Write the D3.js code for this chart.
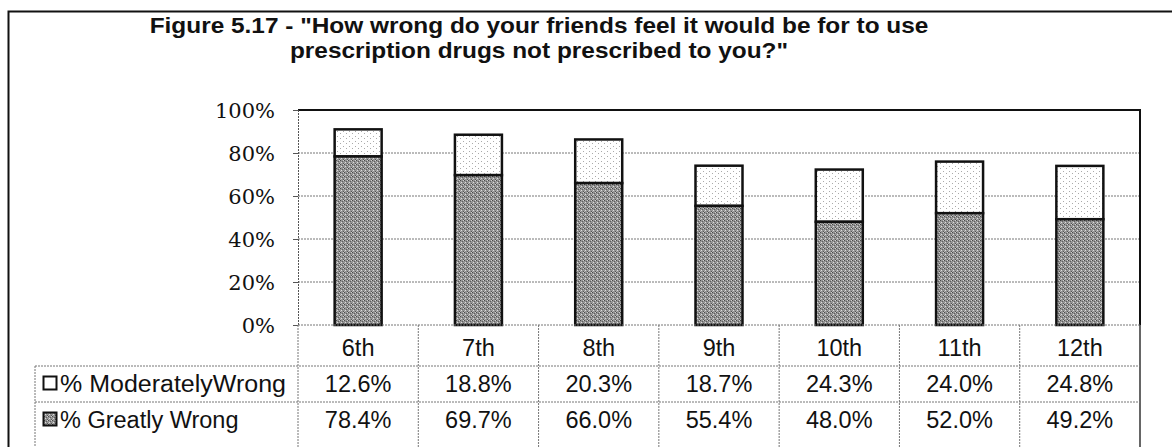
<!DOCTYPE html>
<html><head><meta charset="utf-8">
<script src="https://cdn.jsdelivr.net/npm/d3@7"></script>
<style>
html,body{margin:0;padding:0;background:#fff;}
svg{display:block;}
</style></head>
<body>
<script>
const categories = ["6th","7th","8th","9th","10th","11th","12th"];
const moderatelyWrong = [12.6, 18.8, 20.3, 18.7, 24.3, 24.0, 24.8];
const greatlyWrong = [78.4, 69.7, 66.0, 55.4, 48.0, 52.0, 49.2];
const seriesNames = ["% ModeratelyWrong", "% Greatly Wrong"];
const yTicks = [0, 20, 40, 60, 80, 100];
const titleLines = ["Figure 5.17 - \"How wrong do your friends feel it would be for to use",
                    "prescription drugs not prescribed to you?\""];

const W = 1172, H = 447;
const svg = d3.select("body").append("svg").attr("width", W).attr("height", H);
const defs = svg.append("defs");

const pg = defs.append("pattern").attr("id","dark").attr("patternUnits","userSpaceOnUse")
  .attr("width",4).attr("height",4);
pg.append("rect").attr("width",4).attr("height",4).attr("fill","#949494");
[[0,0,"#4a4a4a"],[2,1,"#5e5e5e"],[1,2,"#dcdcdc"],[3,3,"#555"],[3,0,"#cfcfcf"],[0,3,"#b5b5b5"]].forEach(p=>{
  pg.append("rect").attr("x",p[0]).attr("y",p[1]).attr("width",1).attr("height",1).attr("fill",p[2]);
});
const pl = defs.append("pattern").attr("id","light").attr("patternUnits","userSpaceOnUse")
  .attr("width",6).attr("height",5);
pl.append("rect").attr("width",6).attr("height",5).attr("fill","#fff");
[[1,1],[4,3]].forEach(p=>{
  pl.append("rect").attr("x",p[0]).attr("y",p[1]).attr("width",1).attr("height",1).attr("fill","#aaa");
});

svg.append("rect").attr("x",8.5).attr("y",11.5).attr("width",1300).attr("height",600)
  .attr("fill","none").attr("stroke","#111").attr("stroke-width",2);

const titleG = svg.append("g").attr("transform","translate(539,0) scale(1.12,1)");
const title = titleG.append("text").attr("font-family","Liberation Sans, Arial, sans-serif")
  .attr("font-weight","bold").attr("font-size",21.8).attr("text-anchor","middle").attr("fill","#111");
titleLines.forEach((t,i)=>{
  title.append("tspan").attr("x",0).attr("y",33 + i*25).text(t);
});

const x = d3.scaleBand().domain(categories).range([298,1140]).paddingInner(0).paddingOuter(0);
const y = d3.scaleLinear().domain([0,100]).range([325,110]);
const barW = 47;

svg.append("g").selectAll("line").data(yTicks.filter(d=>d>0 && d<100)).join("line")
  .attr("x1",298).attr("x2",1140).attr("y1",d=>y(d)).attr("y2",d=>y(d))
  .attr("stroke","#777").attr("stroke-width",1).attr("stroke-dasharray","2,1");

svg.append("path").attr("d",`M298,${y(100)}H1140V${y(0)}`).attr("fill","none")
  .attr("stroke","#111").attr("stroke-width",2);

const yAxis = svg.append("g").attr("transform","translate(298,0)")
  .call(d3.axisLeft(y).tickValues(yTicks).tickFormat(d=>d+"%").tickSize(5).tickPadding(18));
yAxis.select(".domain").attr("stroke","#555").attr("stroke-dasharray","2,1");
yAxis.selectAll(".tick line").attr("stroke","#555");
yAxis.selectAll(".tick text").attr("font-family","DejaVu Serif, Cambria, serif")
  .attr("font-size",21).attr("fill","#111").attr("dy","0.36em");

const bars = svg.append("g");
categories.forEach((c,i)=>{
  const cx = x(c) + x.bandwidth()/2;
  const g0 = greatlyWrong[i], m = moderatelyWrong[i];
  bars.append("rect").attr("x",cx-barW/2).attr("y",y(g0+m)).attr("width",barW)
    .attr("height",y(g0)-y(g0+m)).attr("fill","url(#light)").attr("stroke","#111").attr("stroke-width",2.5);
  bars.append("rect").attr("x",cx-barW/2).attr("y",y(g0)).attr("width",barW)
    .attr("height",y(0)-y(g0)).attr("fill","url(#dark)").attr("stroke","#111").attr("stroke-width",2.5);
});

svg.append("line").attr("x1",298).attr("x2",1140).attr("y1",y(0)).attr("y2",y(0))
  .attr("stroke","#777").attr("stroke-dasharray","2,1");

const tbl = svg.append("g");
const rowLines = [366, 402];
const tableLeft = 35;
categories.concat(["__end"]).forEach((c,i)=>{
  const last = i === categories.length;
  const xx = last ? x.range()[1] : x(c);
  tbl.append("line").attr("x1",xx).attr("x2",xx).attr("y1",y(0)).attr("y2",H)
    .attr("stroke", last ? "#333" : "#777").attr("stroke-dasharray", last ? null : "2,1")
    .attr("stroke-width", last ? 1.5 : 1);
});
rowLines.forEach(yy=>{
  tbl.append("line").attr("x1",tableLeft).attr("x2",1140).attr("y1",yy).attr("y2",yy)
    .attr("stroke","#777").attr("stroke-dasharray","2,1");
});
tbl.append("line").attr("x1",tableLeft).attr("x2",tableLeft).attr("y1",rowLines[0]).attr("y2",H)
  .attr("stroke","#777").attr("stroke-dasharray","2,1");

const tf = "Liberation Sans, Arial, sans-serif";
const fs = 23.5;
tbl.selectAll("text.cat").data(categories).join("text").attr("class","cat")
  .attr("x",d=>x(d)+x.bandwidth()/2).attr("y",356).attr("text-anchor","middle")
  .attr("font-family",tf).attr("font-size",fs).attr("fill","#111").text(d=>d);
const rowsData = [moderatelyWrong, greatlyWrong];
const rowBase = [392, 428];
rowsData.forEach((arr,r)=>{
  tbl.selectAll("text.v"+r).data(arr).join("text").attr("class","v"+r)
    .attr("x",(d,i)=>x(categories[i])+x.bandwidth()/2).attr("y",rowBase[r]).attr("text-anchor","middle")
    .attr("font-family",tf).attr("font-size",fs).attr("fill","#111").text(d=>d.toFixed(1)+"%");
  tbl.append("rect").attr("x",43.5).attr("y",rowBase[r]-15.5).attr("width",13).attr("height",13)
    .attr("fill", r===0 ? "#fff" : "url(#dark)").attr("stroke","#111").attr("stroke-width",2);
  const lt = tbl.append("text").attr("x",60).attr("y",rowBase[r]).attr("font-family",tf).attr("font-size",fs)
    .attr("fill","#111").text(seriesNames[r]);
  if (r === 0) lt.attr("textLength",226).attr("lengthAdjust","spacingAndGlyphs");
});
</script>
</body></html>
